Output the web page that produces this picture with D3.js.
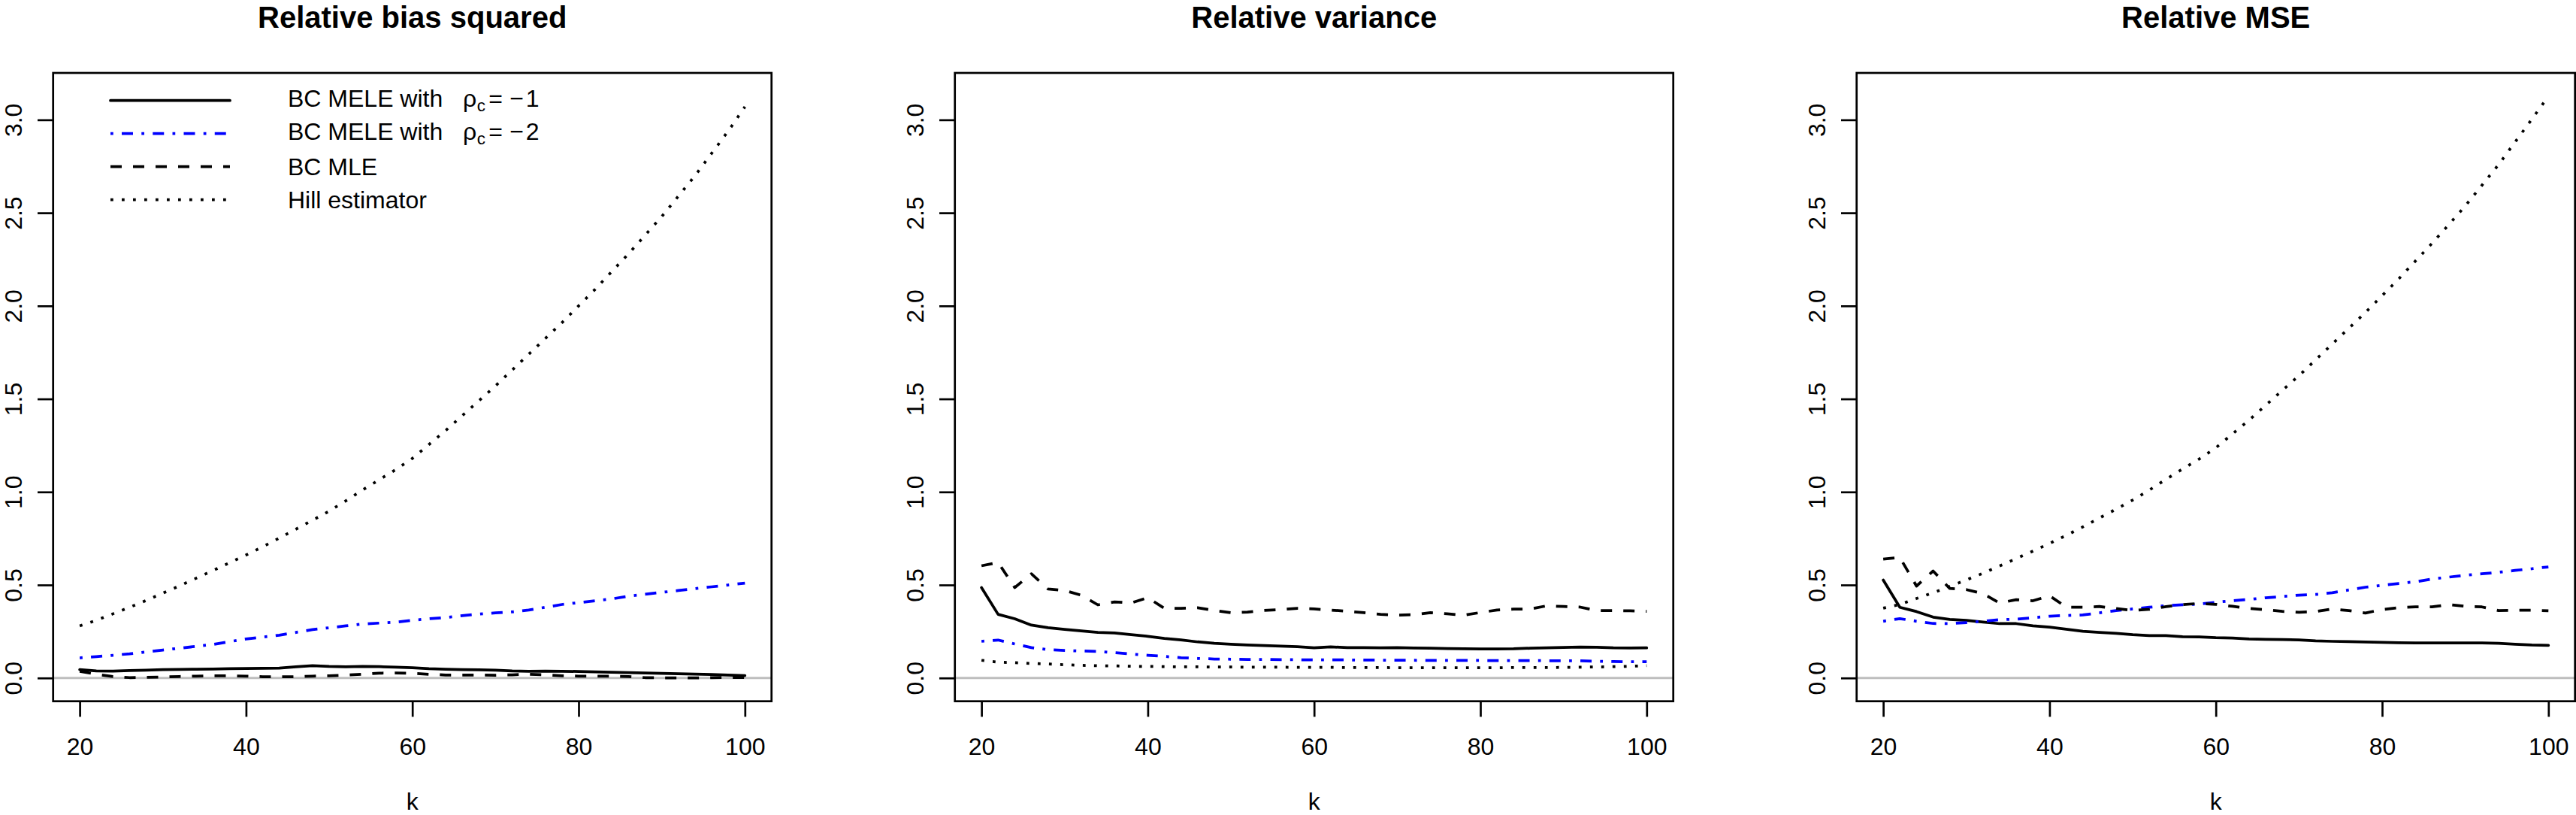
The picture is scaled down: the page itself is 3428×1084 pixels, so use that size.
<!DOCTYPE html>
<html>
<head>
<meta charset="utf-8">
<title>Relative bias, variance and MSE</title>
<script src="https://cdn.jsdelivr.net/npm/d3@7"></script>
<style>
    body { margin: 0; background: #ffffff; }
    #chart { width: 3428px; height: 1084px; }
    text { font-family: "Liberation Sans", Arial, Helvetica, sans-serif; }
</style>
</head>
<body>
<div id="chart"></div>
<script>

// k values on the x axis
const kValues = [20, 22, 24, 26, 28, 30, 32, 34, 36, 38, 40, 42, 44, 46, 48, 50, 52, 54, 56, 58,
    60, 62, 64, 66, 68, 70, 72, 74, 76, 78, 80, 82, 84, 86, 88, 90, 92, 94, 96, 98, 100];

// relative bias squared
const biasMele1 = [0.045, 0.038, 0.037, 0.04, 0.042, 0.045, 0.046, 0.047, 0.048, 0.05,
    0.051, 0.052, 0.053, 0.06, 0.066, 0.062, 0.06, 0.062, 0.061, 0.058,
    0.055, 0.05, 0.047, 0.045, 0.044, 0.042, 0.038, 0.036, 0.037, 0.036,
    0.035, 0.033, 0.031, 0.029, 0.027, 0.025, 0.023, 0.021, 0.019, 0.016, 0.013];
const biasMele2 = [0.108, 0.115, 0.122, 0.13, 0.14, 0.15, 0.16, 0.17, 0.18, 0.195,
    0.21, 0.22, 0.23, 0.245, 0.26, 0.27, 0.28, 0.29, 0.295, 0.30,
    0.31, 0.318, 0.325, 0.335, 0.343, 0.35, 0.355, 0.365, 0.38, 0.395,
    0.405, 0.415, 0.425, 0.44, 0.45, 0.46, 0.47, 0.48, 0.49, 0.50, 0.51];
const biasMle = [0.036, 0.02, 0.008, 0.002, 0.003, 0.005, 0.008, 0.01, 0.012, 0.012,
    0.01, 0.007, 0.006, 0.007, 0.01, 0.012, 0.015, 0.02, 0.026, 0.027,
    0.025, 0.02, 0.016, 0.016, 0.016, 0.015, 0.017, 0.02, 0.017, 0.012,
    0.01, 0.01, 0.01, 0.008, 0.002, 0.001, 0.001, 0.0, 0.002, 0.003, 0.003];
const biasHill = [0.28, 0.31, 0.345, 0.38, 0.417, 0.456, 0.495, 0.536, 0.577, 0.619,
    0.661, 0.705, 0.752, 0.80, 0.848, 0.897, 0.952, 1.01, 1.065, 1.12,
    1.18, 1.255, 1.33, 1.41, 1.49, 1.57, 1.655, 1.74, 1.825, 1.91,
    2.00, 2.09, 2.185, 2.28, 2.38, 2.48, 2.59, 2.70, 2.82, 2.94, 3.07];

// relative variance
const varMele1 = [0.486, 0.342, 0.318, 0.284, 0.270, 0.261, 0.253, 0.245, 0.242, 0.233,
    0.224, 0.213, 0.205, 0.194, 0.186, 0.181, 0.177, 0.174, 0.171, 0.168,
    0.162, 0.167, 0.163, 0.163, 0.162, 0.163, 0.161, 0.160, 0.158, 0.157,
    0.156, 0.156, 0.157, 0.160, 0.162, 0.164, 0.166, 0.165, 0.162, 0.161, 0.162];
const varMele2 = [0.197, 0.204, 0.183, 0.163, 0.152, 0.148, 0.145, 0.143, 0.136, 0.129,
    0.122, 0.116, 0.109, 0.105, 0.102, 0.101, 0.100, 0.100, 0.098, 0.098,
    0.097, 0.097, 0.097, 0.096, 0.096, 0.095, 0.095, 0.094, 0.094, 0.094,
    0.094, 0.093, 0.093, 0.093, 0.093, 0.092, 0.092, 0.090, 0.088, 0.087, 0.087];
const varMle = [0.603, 0.621, 0.486, 0.56, 0.478, 0.47, 0.445, 0.393, 0.409, 0.403,
    0.432, 0.374, 0.374, 0.377, 0.363, 0.351, 0.354, 0.363, 0.368, 0.374,
    0.371, 0.365, 0.358, 0.351, 0.342, 0.338, 0.340, 0.351, 0.345, 0.337,
    0.352, 0.365, 0.370, 0.371, 0.388, 0.384, 0.381, 0.362, 0.362, 0.361, 0.358];
const varHill = [0.095, 0.085, 0.082, 0.078, 0.075, 0.071, 0.068, 0.066, 0.065, 0.063,
    0.062, 0.061, 0.060, 0.060, 0.059, 0.059, 0.058, 0.058, 0.058, 0.057,
    0.057, 0.057, 0.056, 0.056, 0.056, 0.055, 0.055, 0.055, 0.055, 0.055,
    0.055, 0.055, 0.056, 0.056, 0.056, 0.057, 0.058, 0.059, 0.061, 0.063, 0.066];

// relative MSE
const mseMele1 = [0.526, 0.380, 0.357, 0.327, 0.315, 0.310, 0.301, 0.292, 0.292, 0.280,
    0.273, 0.262, 0.251, 0.245, 0.240, 0.233, 0.228, 0.228, 0.222, 0.221,
    0.217, 0.215, 0.210, 0.208, 0.207, 0.205, 0.200, 0.197, 0.195, 0.193,
    0.191, 0.189, 0.188, 0.188, 0.188, 0.188, 0.188, 0.186, 0.181, 0.177, 0.175];
const mseMele2 = [0.305, 0.319, 0.305, 0.293, 0.292, 0.298, 0.305, 0.313, 0.316, 0.324,
    0.332, 0.336, 0.339, 0.350, 0.362, 0.371, 0.380, 0.389, 0.393, 0.397,
    0.407, 0.415, 0.422, 0.431, 0.438, 0.445, 0.449, 0.458, 0.473, 0.488,
    0.498, 0.508, 0.517, 0.532, 0.542, 0.552, 0.560, 0.568, 0.578, 0.587, 0.597];
const mseMle = [0.639, 0.648, 0.494, 0.575, 0.481, 0.475, 0.453, 0.403, 0.421, 0.415,
    0.442, 0.381, 0.380, 0.384, 0.373, 0.363, 0.369, 0.383, 0.394, 0.401,
    0.396, 0.385, 0.374, 0.367, 0.358, 0.353, 0.357, 0.371, 0.362, 0.349,
    0.368, 0.378, 0.382, 0.382, 0.394, 0.385, 0.382, 0.362, 0.364, 0.364, 0.361];
const mseHill = [0.375, 0.395, 0.427, 0.458, 0.492, 0.527, 0.563, 0.602, 0.642, 0.682,
    0.723, 0.766, 0.812, 0.860, 0.907, 0.956, 1.010, 1.068, 1.123, 1.177,
    1.237, 1.312, 1.386, 1.466, 1.546, 1.625, 1.710, 1.795, 1.880, 1.965,
    2.055, 2.145, 2.241, 2.336, 2.436, 2.537, 2.648, 2.759, 2.881, 3.003, 3.127];

const panelTitles = ["Relative bias squared", "Relative variance", "Relative MSE"];
const legendLabels = ["BC MELE with", "BC MELE with", "BC MLE", "Hill estimator"];
const legendRho = ["1", "2", null, null];
const xTickValues = [20, 40, 60, 80, 100];
const yTickValues = [0, 0.5, 1, 1.5, 2, 2.5, 3];
const yLimits = [0, 3.127];

// R-like line types, dash unit = line width
const lineStyles = [
    {color: "#000000", dash: null},
    {color: "#0000ff", dash: "3.75 11.25 15 11.25"},
    {color: "#000000", dash: "15 15"},
    {color: "#000000", dash: "3.75 11.25"}
];


/*
 * LinePanel - one of the three panels
 */

class LinePanel {

    constructor(parentElement, offsetX, title, series, showLegend) {
        this.parentElement = parentElement;
        this.offsetX = offsetX;
        this.title = title;
        this.series = series;
        this.showLegend = showLegend;

        this.initVis();
    }

    initVis() {
        let vis = this;

        vis.margin = {top: 97, left: 70.7};
        vis.width = 956;
        vis.height = 835.7;

        vis.svg = vis.parentElement.append("g")
            .attr("transform", "translate(" + (vis.offsetX + vis.margin.left) + "," + vis.margin.top + ")");

        // R pads both axes by 4%
        let kExt = d3.extent(kValues);
        let kPad = (kExt[1] - kExt[0]) * 0.04;
        let yPad = (yLimits[1] - yLimits[0]) * 0.04;

        vis.x = d3.scaleLinear()
            .domain([kExt[0] - kPad, kExt[1] + kPad])
            .range([0, vis.width]);

        vis.y = d3.scaleLinear()
            .domain([yLimits[0] - yPad, yLimits[1] + yPad])
            .range([vis.height, 0]);

        vis.xAxis = d3.axisBottom(vis.x)
            .tickValues(xTickValues)
            .tickSize(20.7)
            .tickSizeOuter(0);

        vis.yAxis = d3.axisLeft(vis.y)
            .tickValues(yTickValues)
            .tickFormat(d3.format(".1f"))
            .tickSize(20.7)
            .tickSizeOuter(0);

        let gx = vis.svg.append("g")
            .attr("class", "x-axis axis")
            .attr("transform", "translate(0," + vis.height + ")")
            .call(vis.xAxis);
        gx.select(".domain").remove();
        gx.selectAll("line").attr("stroke", "#000").attr("stroke-width", 2.7);
        gx.selectAll("text")
            .attr("y", 71)
            .attr("dy", null)
            .attr("fill", "#000")
            .style("font-size", "32px")
            .style("font-family", "'Liberation Sans', Arial, sans-serif");

        let gy = vis.svg.append("g")
            .attr("class", "y-axis axis")
            .call(vis.yAxis);
        gy.select(".domain").remove();
        gy.selectAll("line").attr("stroke", "#000").attr("stroke-width", 2.7);
        gy.selectAll("text")
            .attr("x", 0)
            .attr("dy", null)
            .attr("text-anchor", "middle")
            .attr("transform", "translate(-41.5,0) rotate(-90)")
            .attr("fill", "#000")
            .style("font-size", "32px")
            .style("font-family", "'Liberation Sans', Arial, sans-serif");

        // title and x label (kept just inside the page edges)
        vis.svg.append("text")
            .attr("x", vis.width / 2)
            .attr("y", 37 - vis.margin.top)
            .attr("text-anchor", "middle")
            .style("font-size", "40px")
            .style("font-weight", "bold")
            .text(vis.title);

        vis.svg.append("text")
            .attr("x", vis.width / 2)
            .attr("y", 1076.5 - vis.margin.top)
            .attr("text-anchor", "middle")
            .style("font-size", "32px")
            .text("k");

        vis.wrangleData();
    }

    wrangleData() {
        let vis = this;

        vis.displayData = vis.series.map((values, i) => {
            return {
                style: lineStyles[i],
                points: kValues.map((k, j) => ({k: k, value: values[j]}))
            };
        });

        vis.updateVis();
    }

    updateVis() {
        let vis = this;

        // grey reference line at zero
        vis.svg.append("line")
            .attr("x1", 0)
            .attr("x2", vis.width)
            .attr("y1", vis.y(0))
            .attr("y2", vis.y(0))
            .attr("stroke", "#bebebe")
            .attr("stroke-width", 3);

        let line = d3.line()
            .x(d => vis.x(d.k))
            .y(d => vis.y(d.value));

        vis.svg.selectAll(".series")
            .data(vis.displayData)
            .enter()
            .append("path")
            .attr("class", "series")
            .attr("d", d => line(d.points))
            .attr("fill", "none")
            .attr("stroke", d => d.style.color)
            .attr("stroke-width", 3.75)
            .attr("stroke-linejoin", "round")
            .attr("stroke-linecap", d => d.style.dash ? "butt" : "round")
            .attr("stroke-dasharray", d => d.style.dash);

        // box around the plot region
        vis.svg.append("rect")
            .attr("x", 0)
            .attr("y", 0)
            .attr("width", vis.width)
            .attr("height", vis.height)
            .attr("fill", "none")
            .attr("stroke", "#000")
            .attr("stroke-width", 2.7);

        if (vis.showLegend) vis.drawLegend();
    }

    drawLegend() {
        let vis = this;

        let legend = vis.svg.append("g").attr("class", "legend");

        legendLabels.forEach((label, i) => {
            let ly = 36.7 + i * 44;
            let st = lineStyles[i];

            legend.append("line")
                .attr("x1", 76.3)
                .attr("x2", 235.3)
                .attr("y1", ly)
                .attr("y2", ly)
                .attr("stroke", st.color)
                .attr("stroke-width", 3.75)
                .attr("stroke-linecap", st.dash ? "butt" : "round")
                .attr("stroke-dasharray", st.dash);

            let base = legendRho[i] ? ly + 8 : ly + 11.6;
            let txt = legend.append("text")
                .attr("y", base)
                .style("font-size", "32px");

            txt.append("tspan").attr("x", 312.3).text(label);

            if (legendRho[i]) {
                txt.append("tspan").attr("x", 545.3).attr("y", base).text("ρ");
                txt.append("tspan").attr("x", 564).attr("y", base + 6.5)
                    .style("font-size", "22.4px").text("c");
                txt.append("tspan").attr("x", 579.5).attr("y", base).text("=");
                txt.append("tspan").attr("x", 607.5).attr("y", base).text("−");
                txt.append("tspan").attr("x", 629).attr("y", base).text(legendRho[i]);
            }
        });
    }
}


let svg = d3.select("#chart").append("svg")
    .attr("width", 3428)
    .attr("height", 1084);

let panelSeries = [
    [biasMele1, biasMele2, biasMle, biasHill],
    [varMele1, varMele2, varMle, varHill],
    [mseMele1, mseMele2, mseMle, mseHill]
];

panelTitles.forEach((title, i) => {
    new LinePanel(svg, i * 1200, title, panelSeries[i], i === 0);
});

</script>
</body>
</html>
